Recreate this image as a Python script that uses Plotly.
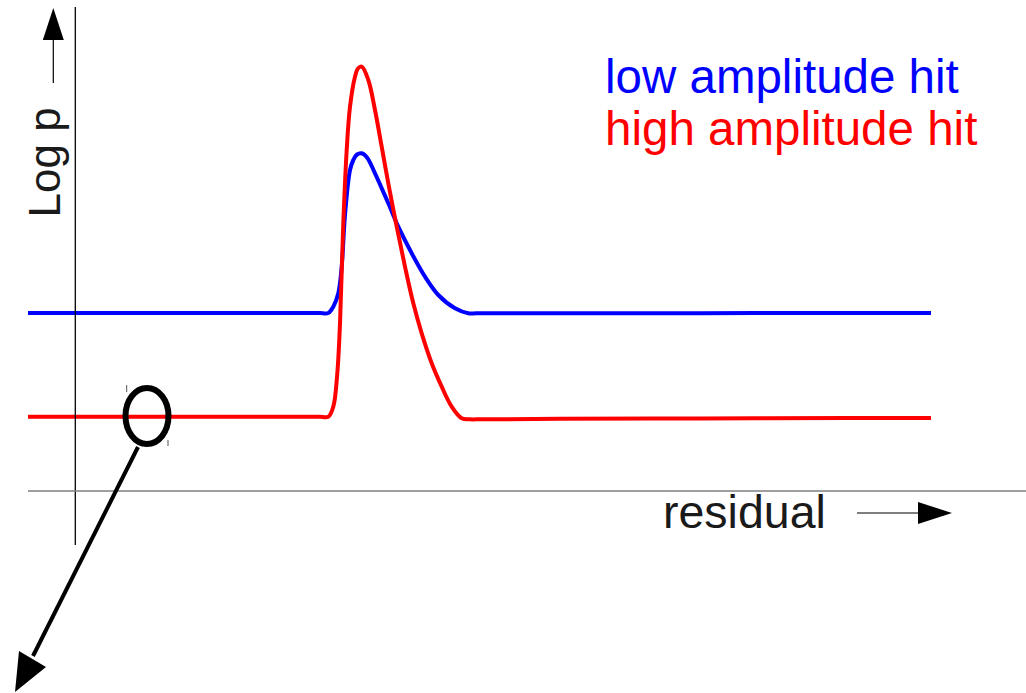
import plotly.graph_objects as go

# Residual / log-probability sketch of a hit response (arbitrary units)
low_residual = [28, 100, 200, 280, 310, 320, 328.3, 333.3, 338.3, 341.7, 345, 350, 353.3,
                357, 361.7, 367, 375, 388.3, 398.3, 411.7, 425, 438.3, 455,
                468.3, 476, 490, 560, 700, 850, 931]
low_logp = [380, 380, 380, 380, 380, 380, 380, 386.3, 399.7, 426.3, 478, 523, 533,
            538.5, 539.7, 535.5, 519.7, 489.7, 466.3, 439.7, 416.3, 398, 384.7,
            379.7, 379.7, 379.7, 379.7, 379.8, 380, 380]

high_residual = [28, 100, 200, 280, 310, 320, 328.3, 333.3, 337.3, 340, 343.3, 346.7, 350,
                 355, 358, 361.7, 368.3, 375, 381.7, 388.3, 396.7, 405, 413.3, 421.7,
                 431.7, 441.7, 451.7, 461.7, 470, 480, 500, 560, 700, 850, 931]
high_logp = [276.3, 276.3, 276.3, 276.3, 276.3, 276.3, 276.3, 286.3, 319.7, 369.7, 469.7,
             543, 586.3, 616.3, 624.5, 626.3, 613, 583, 546.3, 509.7, 466.3, 426.3, 389.7,
             359.7, 329.7, 306.3, 286.3, 274.7, 273.7, 273.7, 273.8, 274.2, 274.6, 275, 275]

series_names = ["low amplitude hit", "high amplitude hit"]
series_colors = ["#0000ff", "#ff0000"]

FONT = "Liberation Sans, Arial, sans-serif"
INK = "#1a1a1a"

fig = go.Figure()
fig.add_trace(go.Scatter(x=low_residual, y=low_logp, mode="lines", name=series_names[0],
                         line=dict(color=series_colors[0], width=4, shape="spline", smoothing=1.0)))
fig.add_trace(go.Scatter(x=high_residual, y=high_logp, mode="lines", name=series_names[1],
                         line=dict(color=series_colors[1], width=4, shape="spline", smoothing=1.0)))

shapes = [
    # axes
    dict(type="line", x0=75.3, x1=75.3, y0=148, y1=686, line=dict(color="black", width=1.3)),
    dict(type="line", x0=28, x1=1026, y0=202, y1=202, line=dict(color="#7f7f7f", width=1.7)),
    # up arrow beside "Log p"
    dict(type="line", x0=53.3, x1=53.3, y0=610, y1=655, line=dict(color="black", width=1.2)),
    dict(type="path", path="M 42.8 653 L 63.8 653 L 53.3 685 Z",
         fillcolor="black", line=dict(color="black", width=0)),
    # right arrow after "residual"
    dict(type="line", x0=857, x1=920, y0=180, y1=180, line=dict(color="black", width=1.2)),
    dict(type="path", path="M 918 191 L 918 169 L 952 180 Z",
         fillcolor="black", line=dict(color="black", width=0)),
    # marker ellipse on the baseline
    dict(type="circle", x0=125.5, x1=168.5, y0=249, y1=305,
         line=dict(color="black", width=6)),
    dict(type="line", x0=126.7, x1=126.7, y0=301, y1=308, line=dict(color="#555", width=1)),
    dict(type="line", x0=168, x1=168, y0=247, y1=253, line=dict(color="#555", width=1)),
    # pointer arrow leaving the ellipse
    dict(type="line", x0=138, x1=33, y0=246, y1=37, line=dict(color="black", width=4)),
    dict(type="path", path="M 19 42 L 46 26 L 15 1 Z",
         fillcolor="black", line=dict(color="black", width=0)),
]

annotations = [
    dict(x=44, y=530.5, text="Log p", textangle=-90, showarrow=False,
         xanchor="center", yanchor="middle", font=dict(family=FONT, size=44, color=INK)),
    dict(x=603, y=617, text=series_names[0], showarrow=False,
         xanchor="left", yanchor="middle", font=dict(family=FONT, size=47.5, color=series_colors[0])),
    dict(x=603, y=565, text=series_names[1], showarrow=False,
         xanchor="left", yanchor="middle", font=dict(family=FONT, size=47.5, color=series_colors[1])),
    dict(x=661, y=181, text="residual", showarrow=False,
         xanchor="left", yanchor="middle", font=dict(family=FONT, size=46.5, color=INK)),
]

fig.update_layout(
    width=1026, height=693,
    margin=dict(l=0, r=0, t=0, b=0),
    paper_bgcolor="white", plot_bgcolor="white",
    showlegend=False,
    xaxis=dict(range=[0, 1026], visible=False, fixedrange=True),
    yaxis=dict(range=[0, 693], visible=False, fixedrange=True),
    shapes=shapes, annotations=annotations,
)

fig.write_html("out.html")
